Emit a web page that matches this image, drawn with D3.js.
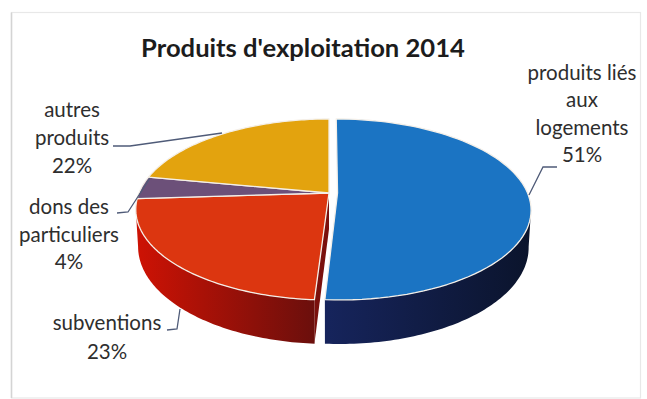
<!DOCTYPE html>
<html lang="fr">
<head>
<meta charset="utf-8">
<title>Produits d'exploitation 2014</title>
<script src="https://cdn.jsdelivr.net/npm/d3@7/dist/d3.min.js"></script>
<style>
  html, body { margin: 0; padding: 0; background: #fff; }
  svg { display: block; }
  text { font-family: Lato, "Open Sans", sans-serif; fill: #2e2e2e; }
</style>
</head>
<body>
<svg id="chart" width="647" height="399"></svg>
<script>
// Chart content
const chartTitle = "Produits d'exploitation 2014";
const categories = ["produits liés aux logements", "subventions", "dons des particuliers", "autres produits"];
const shares = [51, 23, 4, 22];
const labelLines = [
  ["produits liés", "aux", "logements", "51%"],
  ["subventions", "23%"],
  ["dons des", "particuliers", "4%"],
  ["autres", "produits", "22%"]
];
const topColors = ["#1b74c3", "#dc3610", "#6c5079", "#e3a30e"];

const svg = d3.select("#chart");
const defs = svg.append("defs");

// Tilted disc: a circle seen in perspective around the apex of the pie
const cx = 329, cy = 193, radiusX = 190, radiusY = 87.5, tilt = 0.182, wallHeight = 36;
const project = (a, r, shift) => {
  const u = r * Math.sin(a) + shift, v = r * Math.cos(a), w = 1 + tilt * v;
  return { x: cx + radiusX * u / w, y: cy - radiusY * v / w, depth: wallHeight / w };
};
const line = d3.line().x(d => d.x).y(d => d.y);
const sweep = (a0, a1) => d3.range(0, 81).map(i => a0 + (a1 - a0) * i / 80);

const arcs = d3.pie().sort(null).value(d => d)(shares);
const explode = [0.045, 0, 0, 0];

// Wall colours run from lit to shaded along the rim
const wallGradient = (id, x1, x2, from, to) => {
  const g = defs.append("linearGradient").attr("id", id)
    .attr("gradientUnits", "userSpaceOnUse")
    .attr("x1", x1).attr("x2", x2).attr("y1", 0).attr("y2", 0);
  g.append("stop").attr("offset", 0).attr("stop-color", from);
  g.append("stop").attr("offset", 1).attr("stop-color", to);
};
wallGradient("wall-blue", 327, 530, "#16245c", "#0b142c");
wallGradient("wall-red", 140, 316, "#cc1204", "#6a0f0c");

const slice = (d, i) => {
  const e = explode[i];
  const rim = sweep(d.startAngle, d.endAngle).map(a => project(a, 1, e));
  const apex = project(0, 0, e);
  return [apex, ...rim, apex];
};

const wall = (a0, a1, shift) => {
  const top = sweep(a0, a1).map(a => project(a, 1, shift));
  const bottom = top.map(p => ({ x: p.x + (p.x - cx) * -0.012, y: p.y + p.depth })).reverse();
  return [...top, ...bottom];
};

const red = arcs[1], blue = arcs[0];
const rightEdge = Math.PI / 2 + Math.asin(tilt);
const leftEdge = 1.5 * Math.PI - Math.asin(tilt);

// Cut face of the red slice, seen through the gap left by the pulled-out slice
const redApex = project(0, 0, 0);
const redFront = project(red.startAngle, 1, 0);
svg.append("path")
  .attr("d", line([redApex, redFront,
    { x: redFront.x, y: redFront.y + redFront.depth },
    { x: redApex.x, y: redApex.y + redApex.depth }]) + "Z")
  .attr("fill", "#7a100c");

svg.append("path").attr("d", line(wall(red.startAngle, leftEdge, 0)) + "Z").attr("fill", "url(#wall-red)");
svg.append("path").attr("d", line(wall(rightEdge, blue.endAngle, explode[0])) + "Z").attr("fill", "url(#wall-blue)");

// Top faces, with a thin light edge between slices
svg.selectAll("path.top").data(arcs).join("path")
  .attr("class", "top")
  .attr("d", (d, i) => line(slice(d, i)) + "Z")
  .attr("fill", (d, i) => topColors[i])
  .attr("stroke", "#f4efe8")
  .attr("stroke-width", 1.3)
  .attr("stroke-linejoin", "round");

// Leader lines
const leaders = [
  [[557, 167], [543, 167], [529, 195]],
  [[167, 330], [177, 329], [180, 309]],
  [[117, 213], [128, 212], [150, 178]],
  [[113, 146], [130, 146], [222, 133]]
];
svg.selectAll("path.leader").data(leaders).join("path")
  .attr("class", "leader")
  .attr("d", d3.line())
  .attr("fill", "none")
  .attr("stroke", "#4f5b78")
  .attr("stroke-width", 1.3);

// Chart frame: the left side reads darkest, the others stay faint
svg.append("rect")
  .attr("x", 11.5).attr("y", 12.5).attr("width", 629).attr("height", 385.5)
  .attr("fill", "none")
  .attr("stroke", "#e8e8e8")
  .attr("stroke-width", 1.2);
svg.append("line")
  .attr("x1", 11.5).attr("x2", 11.5).attr("y1", 12.5).attr("y2", 398)
  .attr("stroke", "#d4d4d4")
  .attr("stroke-width", 1.5);

// Title and data labels
svg.append("text")
  .attr("x", 303).attr("y", 57)
  .attr("text-anchor", "middle")
  .attr("font-size", 25.6)
  .attr("font-weight", 700)
  .style("fill", "#1c1c1c")
  .text(chartTitle);

const labelAnchors = [
  { x: 582, y: 73, step: 27.4 },
  { x: 107, y: 323, step: 29 },
  { x: 69, y: 207, step: 27.5 },
  { x: 72, y: 110, step: 28 }
];
svg.selectAll("text.label").data(labelLines).join("text")
  .attr("class", "label")
  .attr("text-anchor", "middle")
  .attr("font-size", 20.5)
  .each(function (lines, i) {
    const a = labelAnchors[i];
    d3.select(this).selectAll("tspan").data(lines).join("tspan")
      .attr("x", a.x)
      .attr("y", (d, k) => a.y + k * a.step + 7)
      .text(d => d);
  });
</script>
</body>
</html>
